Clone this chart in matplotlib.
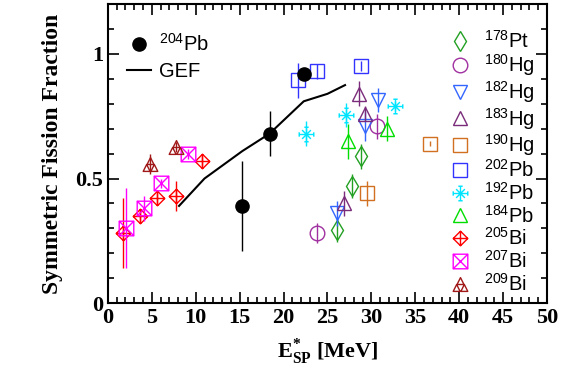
import matplotlib
matplotlib.use('Agg')
from matplotlib import pyplot as plt
from matplotlib.path import Path
from matplotlib.lines import Line2D
from matplotlib.ticker import MultipleLocator
import numpy as np

plt.rcParams['font.family'] = 'Liberation Serif'
plt.rcParams['mathtext.fontset'] = 'custom'
plt.rcParams['mathtext.rm'] = 'Liberation Sans'
plt.rcParams['mathtext.bf'] = 'Liberation Serif:bold'

# data: (excitation energy, symmetric fraction, error)
pt178_x = [26.1, 27.8, 28.8]
pt178_y = [0.295, 0.47, 0.59]
pt178_e = [0.05, 0.05, 0.05]

hg180_x = [23.8, 30.6]
hg180_y = [0.28, 0.71]
hg180_e = [0.04, 0.05]

hg182_x = [26.1, 29.3, 30.8]
hg182_y = [0.36, 0.71, 0.815]
hg182_e = [0.05, 0.06, 0.05]

hg183_x = [26.9, 28.6, 29.3]
hg183_y = [0.40, 0.84, 0.76]
hg183_e = [0.05, 0.05, 0.03]

hg190_x = [29.5, 36.7]
hg190_y = [0.44, 0.64]
hg190_e = [0.05, 0.01]

pb202_x = [21.7, 23.8, 28.8]
pb202_y = [0.895, 0.93, 0.95]
pb202_e = [0.07, 0.03, 0.02]

pb192_x = [22.6, 27.1, 32.7]
pb192_y = [0.68, 0.755, 0.79]
pb192_e = [0.05, 0.05, 0.02]

pb184_x = [27.3, 31.8]
pb184_y = [0.65, 0.70]
pb184_e = [0.07, 0.05]

bi205_x = [1.7, 3.7, 5.6, 7.7, 10.7]
bi205_y = [0.28, 0.35, 0.42, 0.43, 0.57]
bi205_e = [0.14, 0.02, 0.02, 0.06, 0.02]

bi207_x = [2.1, 4.1, 6.1, 9.1]
bi207_y = [0.30, 0.38, 0.48, 0.60]
bi207_e = [0.16, 0.05, 0.02, 0.02]

bi209_x = [4.8, 7.75]
bi209_y = [0.56, 0.625]
bi209_e = [0.04, 0.02]

pb204_x = [15.3, 18.4, 22.3]
pb204_y = [0.39, 0.68, 0.92]
pb204_e = [0.18, 0.09, 0.02]

gef_x = [8.1, 11.0, 15.3, 18.4, 22.3, 25.0, 27.0]
gef_y = [0.39, 0.50, 0.61, 0.68, 0.81, 0.84, 0.875]


# custom markers (ROOT-like)
def diamond_cross():
    v = [(0, 1), (1, 0), (0, -1), (-1, 0), (0, 1),
         (0, 1), (0, -1), (-1, 0), (1, 0)]
    c = [Path.MOVETO, Path.LINETO, Path.LINETO, Path.LINETO, Path.CLOSEPOLY,
         Path.MOVETO, Path.LINETO, Path.MOVETO, Path.LINETO]
    return Path(v, c)


def square_x():
    v = [(-1, -1), (1, -1), (1, 1), (-1, 1), (-1, -1),
         (-1, -1), (1, 1), (-1, 1), (1, -1)]
    c = [Path.MOVETO, Path.LINETO, Path.LINETO, Path.LINETO, Path.CLOSEPOLY,
         Path.MOVETO, Path.LINETO, Path.MOVETO, Path.LINETO]
    return Path(v, c)


def snowflake():
    v, c = [], []
    segs = [((0, -1), (0, 1)), ((-1, 0), (1, 0)),
            ((-0.6, -0.6), (0.6, 0.6)), ((-0.6, 0.6), (0.6, -0.6)),
            ((-0.3, 1), (0.3, 1)), ((-0.3, -1), (0.3, -1)),
            ((1, -0.3), (1, 0.3)), ((-1, -0.3), (-1, 0.3))]
    for a, b in segs:
        v += [a, b]
        c += [Path.MOVETO, Path.LINETO]
    return Path(v, c)


def three_triangles():
    v, c = [], []
    for cx, cy in [(0, 0.45), (-0.5, -0.45), (0.5, -0.45)]:
        v += [(cx - 0.45, cy - 0.45), (cx + 0.45, cy - 0.45), (cx, cy + 0.45), (cx - 0.45, cy - 0.45)]
        c += [Path.MOVETO, Path.LINETO, Path.LINETO, Path.CLOSEPOLY]
    return Path(v, c)


series = [
    ('$^{178}$Pt', pt178_x, pt178_y, pt178_e, 'd', '#22a022', 10.5),
    ('$^{180}$Hg', hg180_x, hg180_y, hg180_e, 'o', '#a030a0', 10.5),
    ('$^{182}$Hg', hg182_x, hg182_y, hg182_e, 'v', '#3366ff', 10.5),
    ('$^{183}$Hg', hg183_x, hg183_y, hg183_e, '^', '#7a2b7a', 10.5),
    ('$^{190}$Hg', hg190_x, hg190_y, hg190_e, 's', '#d07020', 10.5),
    ('$^{202}$Pb', pb202_x, pb202_y, pb202_e, 's', '#3333ff', 10.5),
    ('$^{192}$Pb', pb192_x, pb192_y, pb192_e, snowflake(), '#00e5ff', 10.5),
    ('$^{184}$Pb', pb184_x, pb184_y, pb184_e, '^', '#00dd00', 10.5),
    ('$^{205}$Bi', bi205_x, bi205_y, bi205_e, diamond_cross(), '#ff0000', 10.5),
    ('$^{207}$Bi', bi207_x, bi207_y, bi207_e, square_x(), '#ff00ff', 10.5),
    ('$^{209}$Bi', bi209_x, bi209_y, bi209_e, three_triangles(), '#a01818', 10.5),
]

fig = plt.figure(figsize=(5.71, 3.76), dpi=100)
ax = fig.add_axes([0.189, 0.194, 0.769, 0.795])

handles = []
for label, x, y, e, m, col, ms in series:
    ax.errorbar(x, y, yerr=e, fmt='none', ecolor=col, elinewidth=1.0, capsize=0)
    ax.plot(x, y, linestyle='none', marker=m, markersize=ms, markerfacecolor='none',
            markeredgecolor=col, markeredgewidth=1.0)
    handles.append(Line2D([], [], linestyle='none', marker=m, markersize=ms,
                          markerfacecolor='none', markeredgecolor=col,
                          markeredgewidth=1.0, label=label))

ax.plot(gef_x, gef_y, color='black', linewidth=1.5)
ax.errorbar(pb204_x, pb204_y, yerr=pb204_e, fmt='none', ecolor='black', elinewidth=1.0, capsize=0)
ax.plot(pb204_x, pb204_y, linestyle='none', marker='o', markersize=9.5, color='black')

ax.set_xlim(0, 50)
ax.set_ylim(0, 1.2)
ax.xaxis.set_major_locator(MultipleLocator(5))
ax.xaxis.set_minor_locator(MultipleLocator(1))
ax.yaxis.set_major_locator(MultipleLocator(0.5))
ax.yaxis.set_minor_locator(MultipleLocator(0.1))
ax.set_yticks([0, 0.5, 1])
ax.set_yticklabels(['0', '0.5', '1'])
ax.tick_params(which='both', direction='in', top=True, right=True, width=1.2)
ax.tick_params(which='major', length=8, labelsize=16)
ax.tick_params(which='minor', length=4)
for lab in ax.get_xticklabels() + ax.get_yticklabels():
    lab.set_fontweight('bold')
for sp in ax.spines.values():
    sp.set_linewidth(1.5)

ax.set_ylabel('Symmetric Fission Fraction', fontsize=17, fontweight='bold', labelpad=9)
ax.set_xlabel(r'$\mathbf{E}^{\mathbf{*}}_{\mathbf{SP}}$ [MeV]', fontsize=16, fontweight='bold', labelpad=6)

left_handles = [
    Line2D([], [], linestyle='none', marker='o', markersize=9.5, color='black', label='$^{204}$Pb'),
    Line2D([], [], color='black', linewidth=1.5, label='GEF'),
]
leg1 = ax.legend(handles=left_handles, loc='upper left', bbox_to_anchor=(0.025, 0.93),
                 frameon=False, prop={'family': 'Liberation Sans', 'size': 14.5},
                 handlelength=1.2, handletextpad=0.4, labelspacing=0.35, borderaxespad=0)
ax.add_artist(leg1)

ax.legend(handles=handles, loc='upper right', bbox_to_anchor=(1.0, 0.955),
          frameon=False, prop={'family': 'Liberation Sans', 'size': 14.5},
          handlelength=1.2, handletextpad=0.6, labelspacing=0.04, borderaxespad=0.2)

plt.savefig('out.png', dpi=100)
